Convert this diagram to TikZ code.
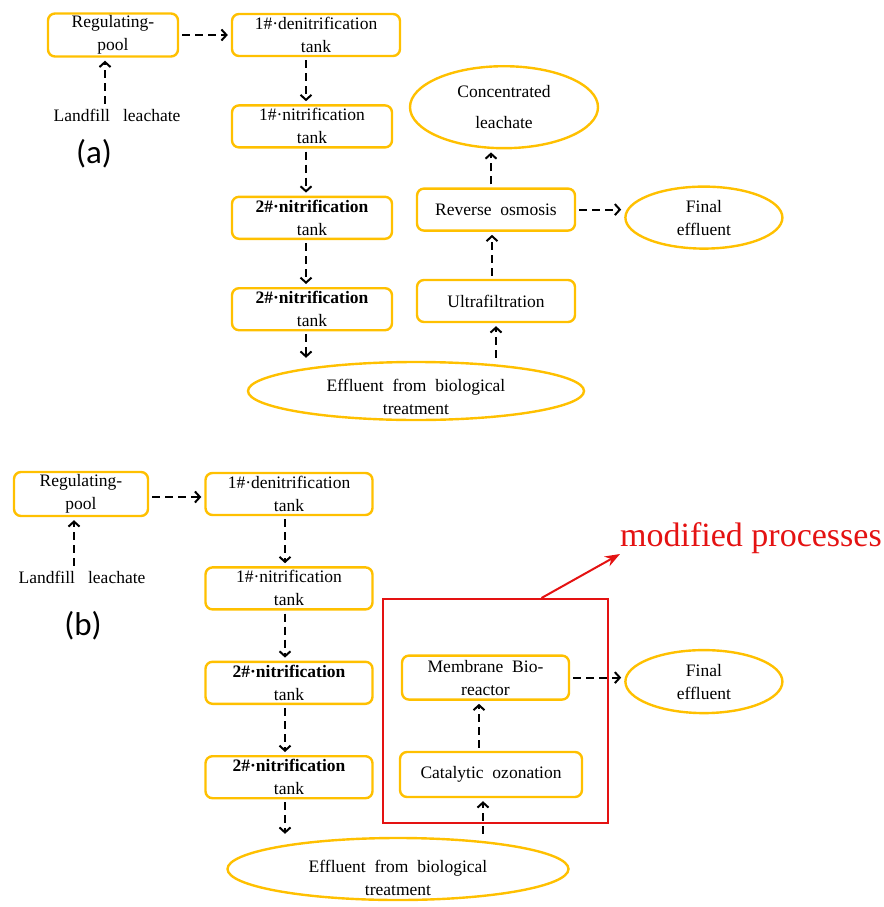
\documentclass[tikz,border=0pt]{standalone}
\usepackage{fontspec}
\setmainfont{Liberation Serif}
\newfontfamily\tagfont{Carlito}
\usepackage{xcolor}
\usetikzlibrary{shapes.geometric, arrows.meta, positioning}
\definecolor{gold}{RGB}{255,192,0}
\definecolor{modred}{RGB}{228,18,18}
\newcommand{\boxfont}{\fontsize{17.5pt}{23pt}\selectfont}
\newcommand{\wsp}{\hspace{0.5em}}
\tikzstyle{stage} = [rectangle, rounded corners=7pt, minimum width=160pt, minimum height=42pt, align=center, inner sep=0pt, draw=gold, line width=2.4pt, font=\boxfont]
\tikzstyle{oval} = [ellipse, align=center, inner sep=0pt, draw=gold, line width=2.4pt, font=\boxfont]
\tikzstyle{feed} = [align=center, inner sep=2pt, font=\boxfont]
\tikzstyle{tag} = [inner sep=0pt, font=\tagfont\fontsize{33pt}{36pt}\selectfont]
\tikzstyle{modframe} = [rectangle, draw=modred, line width=2pt, minimum width=225pt, minimum height=224pt]
\tikzstyle{arrow} = [line width=2.2pt, dash pattern=on 8pt off 5pt, -{Straight Barb[length=5pt, width=11pt, line width=2pt]}, shorten <=3pt, shorten >=3pt]
\tikzstyle{redarrow} = [line width=2pt, draw=modred, -{Stealth[length=15pt, width=11pt]}]

\begin{document}
\begin{tikzpicture}[x=1pt, y=-1pt]
\useasboundingbox (0,0) rectangle (883,907);

% (a) original process
\node (pool-a) [stage, minimum width=130pt, minimum height=43pt] at (113,35) {Regulating-\\pool};
\node (denit-a) [stage, minimum width=168pt] at (316,35) {1\#·denitrification\\tank};
\node (nitr1-a) [stage, below=47pt of denit-a, xshift=-4pt] {1\#·nitrification\\tank};
\node (nitr2-a) [stage, below=47pt of nitr1-a] {\textbf{2\#·nitrification}\\tank};
\node (nitr3-a) [stage, below=47pt of nitr2-a] {\textbf{2\#·nitrification}\\tank};
\node (leach-a) [feed] at (117,115) {Landfill\wsp~leachate};
\node (tag-a) [tag] at (94,154) {(a)};

\node (eff-a) [oval, minimum width=336pt, minimum height=58pt, label={[feed, yshift=-6pt]center:{Effluent\wsp from\wsp biological\\treatment}}] at (416,391) {};
\node (uf-a) [stage, minimum width=158pt] at (496,301) {Ultrafiltration};
\node (ro-a) [stage, minimum width=158pt, above=47pt of uf-a] {Reverse\wsp osmosis};
\node (conc-a) [oval, minimum width=188pt, minimum height=82pt, above=38pt of ro-a, xshift=8pt, font=\fontsize{17.5pt}{31pt}\selectfont] {Concentrated\\leachate};
\node (fin-a) [oval, minimum width=157pt, minimum height=62pt, right=48pt of ro-a, yshift=-8pt] {Final\\effluent};

\draw [arrow] ([xshift=-12pt]leach-a.north) -- ([xshift=-8pt]pool-a.south);
\draw [arrow] (pool-a) -- (denit-a);
\draw [arrow] ([xshift=-10pt]denit-a.south) -- ([xshift=-6pt]nitr1-a.north);
\draw [arrow] ([xshift=-6pt]nitr1-a.south) -- ([xshift=-6pt]nitr2-a.north);
\draw [arrow] ([xshift=-6pt]nitr2-a.south) -- ([xshift=-6pt]nitr3-a.north);
\draw [arrow] ([xshift=-6pt]nitr3-a.south) -- ([xshift=-6pt]nitr3-a.south |- eff-a.north);
\draw [arrow] (uf-a.south |- eff-a.north) -- (uf-a.south);
\draw [arrow] ([xshift=-4pt]uf-a.north) -- ([xshift=-4pt]ro-a.south);
\draw [arrow] ([xshift=-5pt]ro-a.north) -- ([xshift=-5pt]ro-a.north |- conc-a.south);
\draw [arrow] (ro-a.east) -- (ro-a.east -| fin-a.west);

% (b) modified process
\node (pool-b) [stage, minimum width=134pt, minimum height=44pt] at (81,494) {Regulating-\\pool};
\node (denit-b) [stage, minimum width=167pt] at (289,494) {1\#·denitrification\\tank};
\node (nitr1-b) [stage, minimum width=167pt, below=50pt of denit-b] {1\#·nitrification\\tank};
\node (nitr2-b) [stage, minimum width=167pt, below=50pt of nitr1-b] {\textbf{2\#·nitrification}\\tank};
\node (nitr3-b) [stage, minimum width=167pt, below=50pt of nitr2-b] {\textbf{2\#·nitrification}\\tank};
\node (leach-b) [feed] at (82,577) {Landfill\wsp~leachate};
\node (tag-b) [tag] at (83,626) {(b)};

\node (eff-b) [oval, minimum width=341pt, minimum height=62pt, label={[feed, yshift=-9pt]center:{Effluent\wsp from\wsp biological\\treatment}}] at (398,869) {};
\node (co-b) [stage, minimum width=182pt, minimum height=45pt] at (491,774.5) {Catalytic\wsp ozonation};
\node (mbr-b) [stage, minimum width=167pt, minimum height=44pt, above=50pt of co-b, xshift=-5.5pt] {Membrane\wsp Bio-\\reactor};
\node (fin-b) [oval, minimum width=157pt, minimum height=63pt, right=54pt of mbr-b, yshift=-4pt] {Final\\effluent};

\node (modbox) [modframe] at (495.5,711) {};
\node (modtext) [inner sep=0pt, text=modred, font=\fontsize{34pt}{38pt}\selectfont, anchor=south west] at (620,554) {modified processes};

\draw [arrow] ([xshift=-8pt]leach-b.north) -- ([xshift=-7pt]pool-b.south);
\draw [arrow] ([yshift=-3pt]pool-b.east) -- ([yshift=-3pt]pool-b.east -| denit-b.west);
\draw [arrow] ([xshift=-4pt]denit-b.south) -- ([xshift=-4pt]nitr1-b.north);
\draw [arrow] ([xshift=-4pt]nitr1-b.south) -- ([xshift=-4pt]nitr2-b.north);
\draw [arrow] ([xshift=-4pt]nitr2-b.south) -- ([xshift=-4pt]nitr3-b.north);
\draw [arrow] ([xshift=-4pt]nitr3-b.south) -- ([xshift=-4pt]nitr3-b.south |- eff-b.north);
\draw [arrow] ([xshift=-8pt]co-b.south |- eff-b.north) -- ([xshift=-8pt]co-b.south);
\draw [arrow] ([xshift=-12pt]co-b.north) -- ([xshift=-6.5pt]mbr-b.south);
\draw [arrow] (mbr-b.east) -- (mbr-b.east -| fin-b.west);
\draw [redarrow] ([xshift=46pt]modbox.north) -- (modtext.south west);

\end{tikzpicture}
\end{document}
